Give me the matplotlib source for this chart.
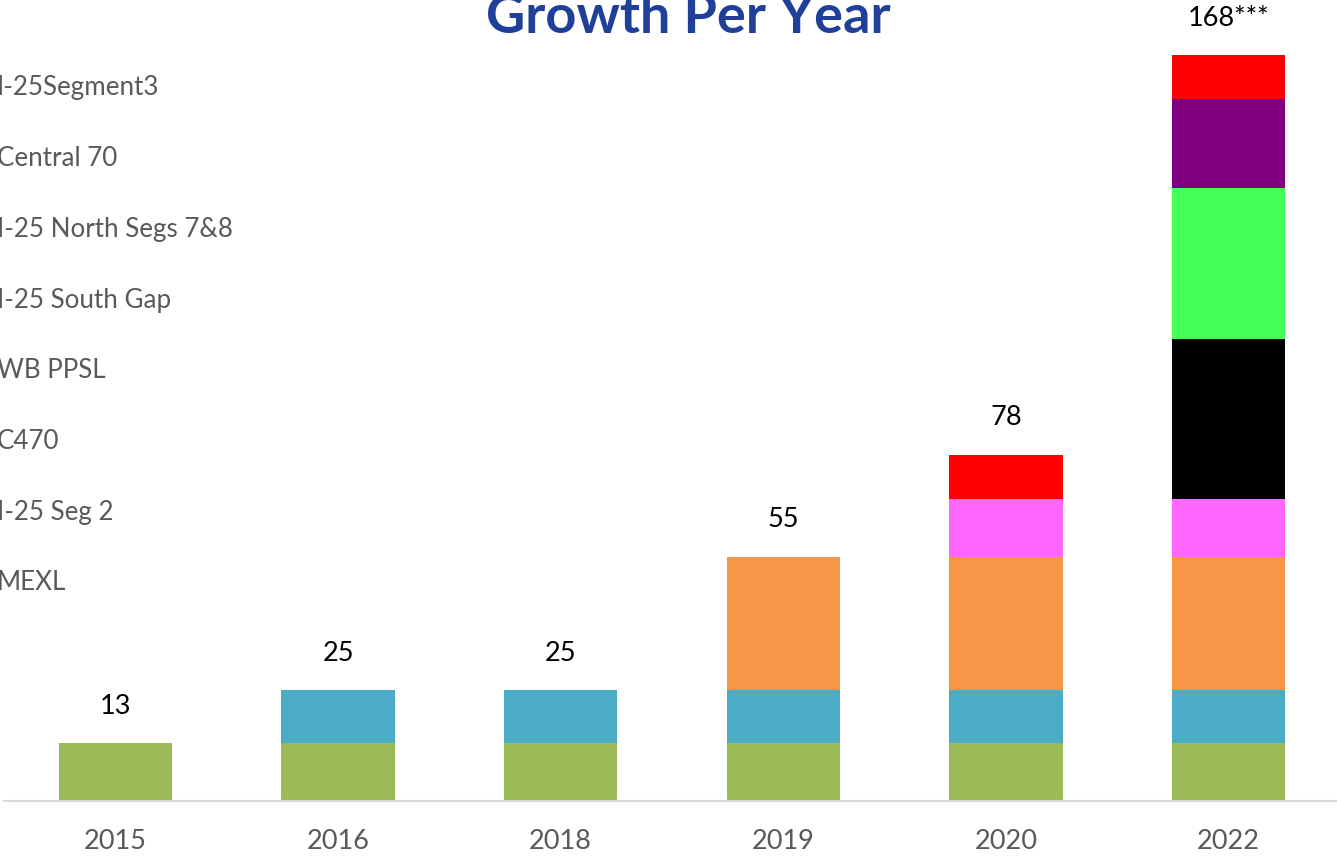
import matplotlib
matplotlib.use("Agg")
import matplotlib.pyplot as plt
import numpy as np

years = ["2015", "2016", "2018", "2019", "2020", "2022"]
series_names = ["MEXL", "I-25 Seg 2", "C470", "WB PPSL", "I-25 South Gap",
                "I-25 North Segs 7&8", "Central 70", "I-25Segment3"]
mexl = [13, 13, 13, 13, 13, 13]
i25_seg2 = [0, 12, 12, 12, 12, 12]
c470 = [0, 0, 0, 30, 30, 30]
wb_ppsl = [0, 0, 0, 0, 13, 13]
i25_south_gap = [0, 0, 0, 0, 0, 36]
i25_north = [0, 0, 0, 0, 0, 34]
central70 = [0, 0, 0, 0, 0, 20]
i25_seg3 = [0, 0, 0, 0, 10, 10]
total_labels = ["13", "25", "25", "55", "78", "168***"]
colors = ["#9BBB59", "#4BACC6", "#F79646", "#FF66FF", "#000000",
          "#44FF55", "#800080", "#FF0000"]

series = [mexl, i25_seg2, c470, wb_ppsl, i25_south_gap, i25_north, central70, i25_seg3]

plt.rcParams['font.family'] = ['Lato', 'DejaVu Sans']

W, H = 1337, 857
fig = plt.figure(figsize=(W / 100, H / 100), dpi=100)
ax = fig.add_axes([4 / W, (H - 801) / H, 1336 / W, 801 / H])

x = np.arange(len(years))
bottom = np.zeros(len(years))
for vals, name, c in zip(series, series_names, colors):
    v = np.array(vals, dtype=float)
    ax.bar(x, v, bottom=bottom, width=0.51, color=c, label=name, zorder=2)
    bottom += v

for xi, tot, lab in zip(x, bottom, total_labels):
    ax.annotate(lab, (xi, tot), xytext=(0, 26.5), textcoords="offset points",
                ha="center", va="center", fontsize=19.5, color="black")

ax.set_xlim(-0.5, len(years) - 0.5)
ax.set_ylim(0, 801 / 4.44)
ax.set_xticks(x)
ax.set_xticklabels(years, fontsize=19.5, color="#595959")
ax.tick_params(axis="x", length=0, pad=20)
ax.set_yticks([])
for s in ["top", "right", "left"]:
    ax.spines[s].set_visible(False)
ax.spines["bottom"].set_color("#D9D9D9")
ax.spines["bottom"].set_linewidth(1.5)

# legend-like labels on the left (markers cropped off)
top_y = 88
step = 70.7
for i, name in enumerate(reversed(series_names)):
    fig.text(-3 / W, 1 - (top_y + i * step) / H, name, ha="left", va="center",
             fontsize=18.7, color="#595959")

fig.text(688 / W, 1 - 33 / H, "Growth Per Year", ha="center", va="baseline",
         fontsize=39, fontweight="bold", color="#1F3F99")

fig.savefig("out.png", dpi=100)
